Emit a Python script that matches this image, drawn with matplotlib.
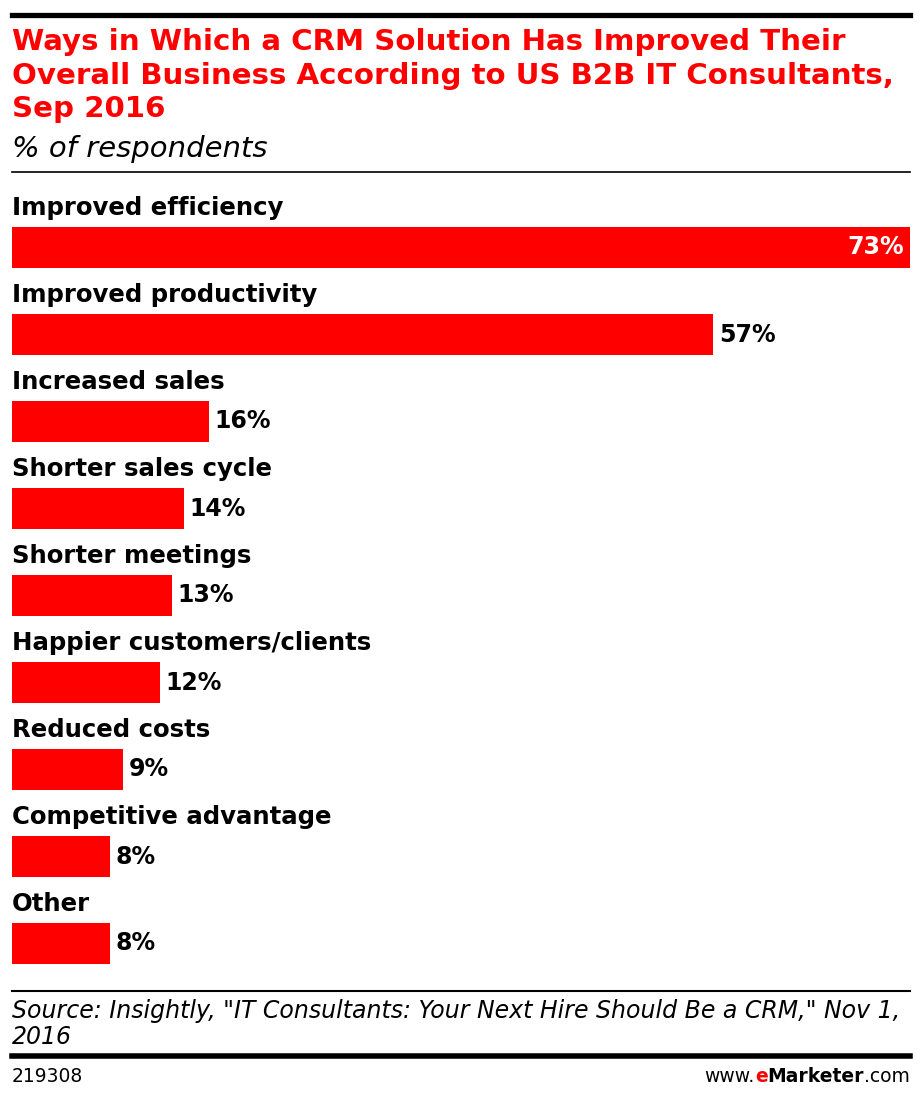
import matplotlib
matplotlib.use("Agg")
import matplotlib.pyplot as plt

categories = ["Improved efficiency", "Improved productivity", "Increased sales",
              "Shorter sales cycle", "Shorter meetings", "Happier customers/clients",
              "Reduced costs", "Competitive advantage", "Other"]
values = [73, 57, 16, 14, 13, 12, 9, 8, 8]

title_lines = ["Ways in Which a CRM Solution Has Improved Their",
               "Overall Business According to US B2B IT Consultants,",
               "Sep 2016"]
subtitle = "% of respondents"
source_lines = ['Source: Insightly, "IT Consultants: Your Next Hire Should Be a CRM," Nov 1,',
                "2016"]
chart_id = "219308"

RED = "#ff0000"
W, H = 922, 1100
fig = plt.figure(figsize=(W / 100, H / 100), dpi=100)
r = fig.canvas.get_renderer()


def fx(px):
    return px / W


def fy(py):
    return 1 - py / H


def text_width(s, **kw):
    t = fig.text(0, 0, s, **kw)
    w = t.get_window_extent(r).width
    t.remove()
    return w


# horizontal rules
fig.add_artist(plt.Line2D([fx(12), fx(910)], [fy(14.5), fy(14.5)], color="black", lw=3.8))
fig.add_artist(plt.Line2D([fx(12), fx(910)], [fy(172), fy(172)], color="black", lw=1.2))
fig.add_artist(plt.Line2D([fx(12), fx(910)], [fy(991), fy(991)], color="black", lw=1.5))
fig.add_artist(plt.Line2D([fx(12), fx(910)], [fy(1056), fy(1056)], color="black", lw=4))

# title, sized so the longest line fits like the original
tsize = 22 * 881 / text_width(title_lines[1], fontsize=22, fontweight="bold")
for line, base in zip(title_lines, [50, 84, 117]):
    fig.text(fx(12), fy(base), line, color=RED, fontsize=tsize, fontweight="bold",
             va="baseline", ha="left")
fig.text(fx(12), fy(157), subtitle, fontsize=21, style="italic", va="baseline", ha="left")

ssize = 17 * 890 / text_width(source_lines[0], fontsize=17, style="italic")
for line, base in zip(source_lines, [1018, 1044]):
    fig.text(fx(12), fy(base), line, fontsize=ssize, style="italic", va="baseline", ha="left")
fig.text(fx(12), fy(1082), chart_id, fontsize=13.5, va="baseline")

# bars
ax = fig.add_axes([fx(12), 1 - 987 / H, 898 / W, 813.45 / H])
pos = list(range(len(categories)))
ax.barh(pos, values, height=0.475, color=RED)
ax.set_xlim(0, max(values))
ax.set_ylim(8.5, -0.85)
ax.axis("off")
for i, (c, v) in enumerate(zip(categories, values)):
    ax.text(0, i - 0.455, c, fontsize=17.6, fontweight="bold", va="center", ha="left")
    if v == max(values):
        ax.annotate(f"{v}%", (v, i), xytext=(-4, 0), textcoords="offset points",
                    color="white", fontsize=17, fontweight="bold", va="center", ha="right")
    else:
        ax.annotate(f"{v}%", (v, i), xytext=(4, 0), textcoords="offset points",
                    color="black", fontsize=17, fontweight="bold", va="center", ha="left")

# www.eMarketer.com, right aligned
parts = [("www.", "black", "normal"), ("e", RED, "bold"),
         ("Marketer", "black", "bold"), (".com", "black", "normal")]
widths = [text_width(s, fontsize=13.5, fontweight=w) for s, col, w in parts]
x = 910 - sum(widths)
for (s, col, w), wd in zip(parts, widths):
    fig.text(fx(x), fy(1082), s, fontsize=13.5, fontweight=w, color=col, va="baseline")
    x += wd

fig.savefig("out.png", dpi=100)
